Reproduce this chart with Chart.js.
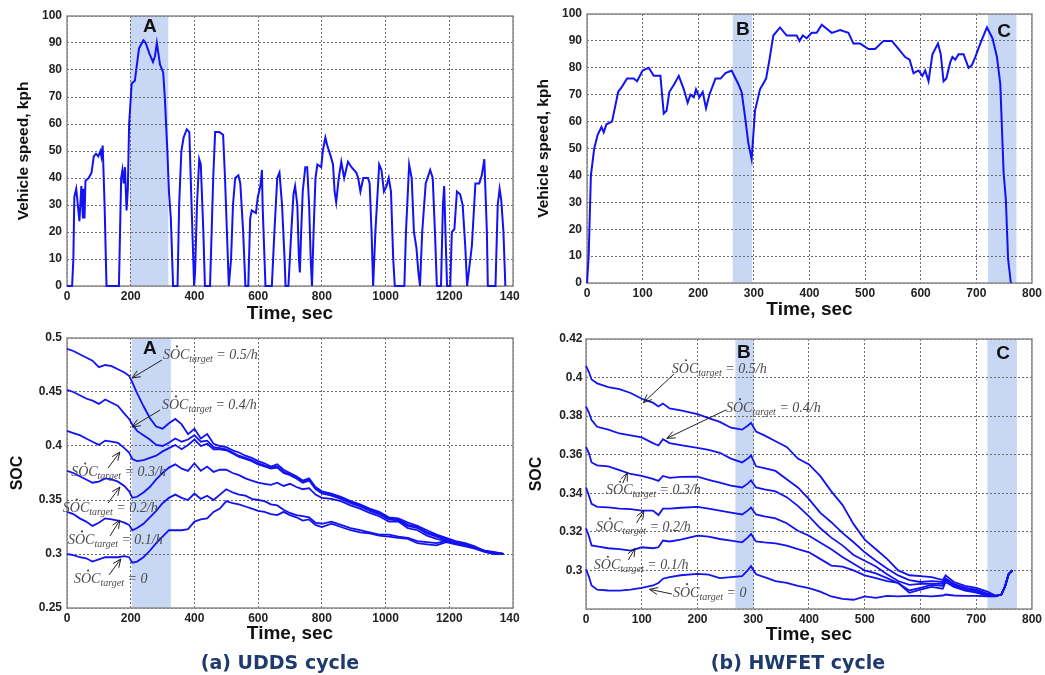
<!DOCTYPE html>
<html>
<head>
<meta charset="utf-8">
<script src="https://cdn.jsdelivr.net/npm/chart.js@4.4.0/dist/chart.umd.min.js"></script>
<style>
  html, body { margin: 0; padding: 0; background: #fff; }
  #page { position: relative; width: 1045px; height: 675px; overflow: hidden; background: #fff; }
  canvas { position: absolute; }
  .cut { clip-path: inset(0 10px 0 0); }
  .cap { position: absolute; top: 651px; font: bold 19px "DejaVu Sans", Verdana, sans-serif; color: #1f3a6e; white-space: nowrap; transform: translateX(-50%); }
</style>
</head>
<body>
<div id="page">
  <canvas id="c1" class="cut" width="530" height="340" style="left:0;top:0"></canvas>
  <canvas id="c2" width="525" height="340" style="left:520px;top:0"></canvas>
  <canvas id="c3" class="cut" width="530" height="355" style="left:0;top:320px"></canvas>
  <canvas id="c4" width="525" height="355" style="left:520px;top:320px"></canvas>
  <div class="cap" style="left:280px">(a) UDDS cycle</div>
  <div class="cap" style="left:798px">(b) HWFET cycle</div>
</div>
<script>
// ---- data ----
// UDDS speed (sec, kph)
const uddsTime = [0,16,20,23,29,34,39,45,50,52, 55,58,68,77,84,91,98,105,108,112,
  118,124,163,170,174,178,182,187,191,195, 203,213,226,240,247,259,270,276,282,292,
  302,307,315,320,326,333,347,352,359,366, 376,384,391,399,402,408,415,420,428,433,
  449,459,465,478,490,496,502,508,515,521, 528,538,544,553,560,569,575,580,593,599,
  607,612,614,620,623,643,651,660,667,675, 683,686,695,704,711,716,723,728,731,735,
  740,748,754,760,765,769,774,780,786,798, 803,811,817,828,835,840,845,853,861,870,
  882,893,908,914,921,930,945,950,956,961, 968,980,987,995,1003,1010,1017,1024,1029,1059,
  1064,1074,1082,1089,1097,1103,1108,1115,1126,1140, 1148,1155,1161,1174,1180,1184,1188,1193,1203,1208,
  1216,1224,1234,1242,1250,1256,1261,1271,1282,1294, 1302,1310,1318,1321,1345,1352,1358,1363,1370,1376];
const uddsSpeed = [0,0,10,33,36,30,24,37,25,36, 25,39,40,42,48,49,48,50,48,52,
  30,0,0,40,43,38,44,28,36,60, 75,76,88,91,90,86,83,85,90,82,
  79,70,50,35,25,0,0,30,50,55, 58,57,30,0,5,30,47,45,20,0,
  0,40,57,57,56,40,20,0,10,30, 40,41,38,20,0,0,25,28,27,33,
  37,43,30,10,0,0,20,40,42,30, 10,0,0,20,34,37,30,10,5,20,
  35,44,44,30,10,0,20,40,45,44, 50,55,52,48,45,35,31,40,46,40,
  46,44,42,40,35,40,40,38,20,0, 20,45,43,35,37,40,35,10,0,0,
  20,45,40,20,14,5,0,20,38,43, 40,20,0,0,30,37,20,0,0,20,
  21,35,34,30,15,0,5,15,38,38, 41,47,20,0,0,30,36,32,20,0];

// HWFET speed (sec, kph)
const hwfetTime = [0,3,7,13,19,26,30,35,45,56, 63,72,84,90,100,111,120,132,138,143,
  148,157,165,174,181,186,192,196,202,208, 214,220,231,240,249,260,272,278,284,290,
  296,302,311,322,328,335,347,359,377,382, 388,395,404,413,422,440,455,470,479,491,
  506,518,533,548,560,572,580,587,596,603, 608,614,621,631,636,641,646,653,657,662,
  668,677,686,692,698,707,719,729,737,743, 749,753,757,762];
const hwfetSpeed = [0,10,40,50,55,58,56,59,60,71, 73,76,76,75,79,80,77,77,63,64,
  71,74,77,72,67,70,69,72,69,71, 65,70,76,76,78,79,74,71,62,52,
  46,64,72,76,83,92,95,92,92,90, 92,91,93,93,96,93,94,93,89,89,
  87,87,90,90,87,84,83,78,79,77, 79,75,85,89,85,75,76,82,84,83,
  85,85,80,81,84,89,95,91,84,74, 41,31,9,0];

// UDDS SOC for each target slope
const uddsSocTime = [0,20,40,60,80,100,120,140,160,180, 195,205,
  220,240,260,280,300,320,340,360,380,400, 420,440,460,480,500,520,540,560,580,600,
  620,640,660,680,700,720,740,760,780,800, 830,860,890,920,950,980,1010,1040,1070,1100,
  1130,1160,1190,1220,1250,1280,1310,1340,1370];
const uddsSoc05 = [0.490,0.488,0.485,0.482,0.479,0.473,0.475,0.474,0.471,0.468, 0.465,0.459,
  0.449,0.437,0.426,0.418,0.416,0.421,0.425,0.420,0.411,0.416, 0.407,0.411,0.402,0.400,0.399,0.396,0.394,0.391,0.389,0.386,
  0.384,0.381,0.383,0.378,0.375,0.372,0.368,0.370,0.362,0.358, 0.356,0.353,0.349,0.346,0.342,0.339,0.334,0.333,0.329,0.326,
  0.322,0.318,0.315,0.312,0.310,0.307,0.303,0.302,0.300];
const uddsSoc04 = [0.452,0.450,0.447,0.444,0.442,0.439,0.443,0.440,0.437,0.430, 0.425,0.420,
  0.414,0.410,0.406,0.401,0.400,0.403,0.407,0.404,0.406,0.410, 0.404,0.405,0.399,0.398,0.397,0.394,0.391,0.389,0.387,0.384,
  0.382,0.380,0.381,0.376,0.374,0.371,0.367,0.369,0.361,0.357, 0.355,0.352,0.348,0.345,0.341,0.338,0.333,0.332,0.327,0.325,
  0.320,0.317,0.314,0.311,0.309,0.306,0.303,0.301,0.300];
const uddsSoc03 = [0.414,0.412,0.410,0.407,0.404,0.401,0.405,0.404,0.403,0.398, 0.394,0.388,
  0.386,0.387,0.389,0.391,0.395,0.398,0.401,0.397,0.401,0.406, 0.400,0.402,0.397,0.397,0.396,0.393,0.390,0.388,0.386,0.383,
  0.381,0.379,0.380,0.375,0.373,0.370,0.366,0.368,0.360,0.356, 0.354,0.351,0.347,0.344,0.340,0.337,0.332,0.331,0.326,0.324,
  0.319,0.316,0.313,0.311,0.309,0.306,0.303,0.301,0.300];
const uddsSoc02 = [0.377,0.375,0.372,0.369,0.366,0.367,0.370,0.369,0.367,0.363, 0.358,0.352,
  0.353,0.357,0.362,0.369,0.375,0.380,0.383,0.379,0.377,0.384, 0.377,0.381,0.376,0.378,0.378,0.375,0.373,0.370,0.368,0.366,
  0.365,0.364,0.366,0.363,0.365,0.362,0.360,0.361,0.355,0.352, 0.351,0.349,0.345,0.342,0.338,0.335,0.330,0.330,0.324,0.322,
  0.317,0.314,0.312,0.310,0.308,0.306,0.303,0.301,0.300];
const uddsSoc01 = [0.339,0.337,0.333,0.330,0.326,0.329,0.333,0.332,0.331,0.329, 0.327,0.322,
  0.324,0.328,0.334,0.340,0.347,0.352,0.355,0.352,0.350,0.356, 0.351,0.354,0.350,0.355,0.360,0.357,0.355,0.354,0.351,0.350,
  0.349,0.346,0.345,0.341,0.338,0.336,0.335,0.334,0.329,0.328, 0.330,0.327,0.324,0.322,0.320,0.318,0.318,0.316,0.315,0.312,
  0.311,0.310,0.312,0.310,0.308,0.306,0.303,0.301,0.300];
const uddsSoc00 = [0.300,0.299,0.297,0.296,0.293,0.295,0.297,0.297,0.297,0.298, 0.297,0.292,
  0.293,0.297,0.303,0.310,0.316,0.322,0.322,0.322,0.323,0.330, 0.332,0.333,0.339,0.342,0.349,0.347,0.346,0.344,0.342,0.340,
  0.339,0.337,0.336,0.339,0.336,0.334,0.331,0.332,0.327,0.325, 0.328,0.325,0.322,0.320,0.319,0.317,0.316,0.315,0.314,0.310,
  0.309,0.308,0.311,0.309,0.307,0.305,0.302,0.300,0.300];

// HWFET SOC for each target slope
const hwfetSocTime = [0,5,10,20,40,60,80,100,120,130, 138,150,170,200,220,240,260,280,290,296,
  305,320,340,360,380,400,420,440,460,480, 500,520,540,560,580,600,620,640,645,660,
  680,700,720,735,745,752,758,765];
const hwfetSoc05 = [0.406,0.403,0.399,0.397,0.395,0.394,0.392,0.389,0.387,0.385,
  0.3865,0.384,0.383,0.381,0.379,0.377,0.374,0.373,0.375,0.3765,
  0.372,0.370,0.367,0.364,0.358,0.355,0.349,0.341,0.334,0.324,
  0.316,0.311,0.306,0.300,0.2975,0.297,0.2965,0.295,0.2975,0.294,
  0.292,0.291,0.289,0.2868,0.2875,0.292,0.298,0.300];
const hwfetSoc04 = [0.385,0.382,0.378,0.3745,0.373,0.371,0.370,0.369,0.366,0.3648,
  0.368,0.366,0.365,0.3636,0.3625,0.361,0.358,0.356,0.358,0.3596,
  0.354,0.353,0.3516,0.3473,0.343,0.337,0.330,0.325,0.3195,0.3146,
  0.3094,0.305,0.301,0.2974,0.295,0.294,0.2945,0.294,0.296,0.293,
  0.291,0.290,0.288,0.2868,0.2875,0.292,0.298,0.300];
const hwfetSoc03 = [0.364,0.361,0.356,0.3545,0.354,0.352,0.350,0.349,0.3475,0.3464,
  0.349,0.348,0.3485,0.3486,0.347,0.3455,0.344,0.343,0.345,0.3467,
  0.343,0.342,0.341,0.338,0.3335,0.328,0.322,0.317,0.313,0.308,
  0.305,0.302,0.298,0.2945,0.2925,0.293,0.293,0.293,0.2955,0.2925,
  0.291,0.2895,0.2875,0.2868,0.2875,0.292,0.298,0.300];
const hwfetSoc02 = [0.343,0.339,0.3345,0.333,0.3327,0.332,0.3318,0.331,0.331,0.3287,
  0.332,0.332,0.3325,0.333,0.332,0.331,0.330,0.329,0.331,0.3326,
  0.329,0.328,0.327,0.3245,0.3206,0.318,0.3145,0.311,0.307,0.3035,
  0.300,0.2985,0.296,0.2935,0.2896,0.291,0.2925,0.292,0.295,0.292,
  0.290,0.289,0.2872,0.2868,0.2875,0.292,0.298,0.300];
const hwfetSoc01 = [0.3218,0.318,0.313,0.3125,0.3115,0.311,0.3103,0.312,0.3115,0.312,
  0.3155,0.315,0.316,0.318,0.3175,0.3163,0.3155,0.3146,0.317,0.3189,
  0.315,0.3145,0.314,0.3129,0.311,0.3094,0.306,0.3025,0.302,0.300,
  0.2974,0.296,0.2945,0.2935,0.2884,0.290,0.2915,0.2905,0.294,0.2915,
  0.2895,0.2885,0.287,0.2868,0.2875,0.292,0.298,0.300];
const hwfetSoc00 = [0.3005,0.297,0.2922,0.290,0.2896,0.2895,0.290,0.291,0.2922,0.2935,
  0.2957,0.2965,0.2975,0.2982,0.2978,0.296,0.2965,0.297,0.300,0.3022,
  0.298,0.2965,0.2945,0.2935,0.292,0.2908,0.289,0.2865,0.2853,0.2848,
  0.2865,0.2858,0.2868,0.2865,0.2868,0.2868,0.2865,0.287,0.2875,0.287,
  0.2868,0.2868,0.2866,0.2866,0.2875,0.292,0.298,0.300];

const socTargets = ['0.5/h', '0.4/h', '0.3/h', '0.2/h', '0.1/h', '0'];

// ---- shaded windows, letters and arrow notes (data coordinates) ----
const extras = {
  c1: { bands: [[198, 318]], letters: [['A', 260, 95.9]] },
  c2: { bands: [[262, 297], [721, 772]], letters: [['B', 280, 94.2], ['C', 750, 93.3]] },
  c3: { bands: [[203, 326]], letters: [['A', 260, 0.4898]],
    notes: [
      [301, 0.4806, 298, 0.4796, 204, 0.463],
      [298, 0.4343, 292, 0.4333, 204, 0.4176],
      [13, 0.3722, 129, 0.3796, 166, 0.3944],
      [-13, 0.3389, 129, 0.3472, 166, 0.362],
      [3, 0.3093, 135, 0.3167, 166, 0.3315],
      [22, 0.2731, 132, 0.2806, 169, 0.2954]
    ] },
  c4: { bands: [[268, 301], [720, 773]], letters: [['B', 283, 0.4127], ['C', 748, 0.4122]],
    notes: [
      [154, 0.4025, 158, 0.4019, 103, 0.387],
      [251, 0.3823, 251, 0.3832, 145, 0.3685],
      [36, 0.3395, 66, 0.3452, 74, 0.3507],
      [18, 0.3204, 91, 0.3247, 104, 0.331],
      [14, 0.3006, 76, 0.3054, 88, 0.3115],
      [156, 0.2864, 154, 0.2878, 114, 0.2902]
    ] }
};

const SANS = '"Liberation Sans", Arial, sans-serif';
const SERIF = '"Liberation Serif", "DejaVu Serif", serif';

function drawNote(ctx, px, py, val) {
  ctx.fillStyle = '#4a4a4a';
  ctx.textAlign = 'left';
  ctx.textBaseline = 'alphabetic';
  ctx.font = 'italic 14px ' + SERIF;
  const wS = ctx.measureText('S').width;
  const wO = ctx.measureText('O').width;
  ctx.fillText('SOC', px, py);
  // dot over the O
  ctx.beginPath();
  ctx.arc(px + wS + wO * 0.5 + 2, py - 12.5, 1.1, 0, Math.PI * 2);
  ctx.fill();
  let w = ctx.measureText('SOC').width;
  ctx.font = 'italic 10px ' + SERIF;
  ctx.fillText('target', px + w, py + 3);
  w += ctx.measureText('target').width;
  ctx.font = 'italic 14px ' + SERIF;
  ctx.fillText(' = ' + val, px + w, py);
}

function drawArrow(ctx, x0, y0, x1, y1) {
  ctx.strokeStyle = '#222';
  ctx.lineWidth = 1;
  ctx.beginPath();
  ctx.moveTo(x0, y0);
  ctx.lineTo(x1, y1);
  ctx.stroke();
  const ang = Math.atan2(y1 - y0, x1 - x0), L = 9, s = 0.4;
  ctx.beginPath();
  ctx.moveTo(x1 - L * Math.cos(ang - s), y1 - L * Math.sin(ang - s));
  ctx.lineTo(x1, y1);
  ctx.lineTo(x1 - L * Math.cos(ang + s), y1 - L * Math.sin(ang + s));
  ctx.stroke();
}

const figurePlugin = {
  id: 'figure',
  beforeDraw(chart) {
    const ex = extras[chart.canvas.id];
    const {ctx, chartArea: a, scales: {x}} = chart;
    ctx.save();
    ctx.fillStyle = '#c7d7f4';
    ex.bands.forEach(([from, to]) => {
      const x0 = x.getPixelForValue(from), x1 = x.getPixelForValue(to);
      ctx.fillRect(x0, a.top, x1 - x0, a.bottom - a.top);
    });
    ctx.restore();
  },
  beforeDatasetsDraw(chart) {
    const {ctx, chartArea: a} = chart;
    ctx.save();
    ctx.strokeStyle = '#8c8c8c';
    ctx.lineWidth = 1.5;
    ctx.strokeRect(a.left, a.top, a.right - a.left, a.bottom - a.top);
    ctx.restore();
  },
  afterDraw(chart) {
    const ex = extras[chart.canvas.id];
    const {ctx, scales: {x, y}} = chart;
    ctx.save();
    ctx.fillStyle = '#111';
    ctx.font = 'bold 19px ' + SANS;
    ctx.textAlign = 'center';
    ctx.textBaseline = 'middle';
    ex.letters.forEach(([t, lx, ly]) => ctx.fillText(t, x.getPixelForValue(lx), y.getPixelForValue(ly)));
    (ex.notes || []).forEach((n, i) => {
      drawArrow(ctx, x.getPixelForValue(n[2]), y.getPixelForValue(n[3]), x.getPixelForValue(n[4]), y.getPixelForValue(n[5]));
      drawNote(ctx, x.getPixelForValue(n[0]), y.getPixelForValue(n[1]), socTargets[i]);
    });
    ctx.restore();
  }
};

function lineSet(times, values, width) {
  return {
    data: times.map((t, i) => ({x: t, y: values[i]})),
    borderColor: '#1212f2',
    borderWidth: width,
    pointRadius: 0,
    tension: 0,
    fill: false,
    clip: 4
  };
}

function fmtNum(v) {
  return String(+Number(v).toFixed(3));
}

function buildChart(id, datasets, o) {
  return new Chart(document.getElementById(id), {
    type: 'line',
    data: {datasets},
    options: {
      responsive: false,
      animation: false,
      events: [],
      layout: {autoPadding: false, padding: {left: 0, top: o.padTop, right: o.padRight, bottom: 0}},
      plugins: {legend: {display: false}, tooltip: {enabled: false}},
      scales: {
        x: {
          type: 'linear', min: 0, max: o.xMax,
          ticks: {stepSize: o.xStep, padding: 3, color: '#222', maxRotation: 0, autoSkip: false,
            font: {family: SANS, size: 12, weight: 'bold'}, callback: v => String(v)},
          grid: {color: '#6a6a6a', lineWidth: 1, drawTicks: false},
          border: {display: false, dash: [2, 2]},
          title: {display: true, text: 'Time, sec', color: '#111',
            font: {family: SANS, size: 19, weight: 'bold', lineHeight: 1.2},
            padding: {top: 0, bottom: o.xTitlePad}},
          afterFit: s => { s.height = o.xHeight; }
        },
        y: {
          type: 'linear', min: o.yMin, max: o.yMax,
          ticks: {stepSize: o.yStep, padding: o.yTickPad, color: '#222',
            font: {family: SANS, size: 12, weight: 'bold'},
            callback: v => (o.hideMin && Math.abs(v - o.yMin) < 1e-6) ? '' : fmtNum(v)},
          grid: {color: '#6a6a6a', lineWidth: 1, drawTicks: false},
          border: {display: false, dash: [2, 2]},
          title: {display: true, text: o.yTitle, color: '#111',
            font: {family: SANS, size: o.yTitleSize, weight: 'bold', lineHeight: 1.2},
            padding: {top: o.yTitlePad, bottom: 0}},
          afterFit: s => { s.width = o.yWidth; }
        }
      }
    },
    plugins: [figurePlugin]
  });
}

buildChart('c1', [lineSet(uddsTime, uddsSpeed, 2)], {
  padTop: 16, padRight: 17, xMax: 1400, xStep: 200, xHeight: 54, xTitlePad: 14.6,
  yMin: 0, yMax: 100, yStep: 10, yTickPad: 5, yWidth: 67,
  yTitle: 'Vehicle speed, kph', yTitleSize: 15.5, yTitlePad: 14
});

buildChart('c2', [lineSet(hwfetTime, hwfetSpeed, 2)], {
  padTop: 14, padRight: 13, xMax: 800, xStep: 100, xHeight: 57, xTitlePad: 19,
  yMin: 0, yMax: 100, yStep: 10, yTickPad: 5, yWidth: 67,
  yTitle: 'Vehicle speed, kph', yTitleSize: 15.5, yTitlePad: 14
});

buildChart('c3', [uddsSoc05, uddsSoc04, uddsSoc03, uddsSoc02, uddsSoc01, uddsSoc00].map(s => lineSet(uddsSocTime, s, 1.8)), {
  padTop: 18, padRight: 17, xMax: 1400, xStep: 200, xHeight: 67, xTitlePad: 29.6,
  yMin: 0.25, yMax: 0.5, yStep: 0.05, yTickPad: 5, yWidth: 67,
  yTitle: 'SOC', yTitleSize: 16, yTitlePad: 8.4
});

buildChart('c4', [hwfetSoc05, hwfetSoc04, hwfetSoc03, hwfetSoc02, hwfetSoc01, hwfetSoc00].map(s => lineSet(hwfetSocTime, s, 1.8)), {
  padTop: 19, padRight: 13, xMax: 800, xStep: 100, xHeight: 66, xTitlePad: 28.6,
  yMin: 0.28, yMax: 0.42, yStep: 0.02, yTickPad: 3.5, yWidth: 66, hideMin: true,
  yTitle: 'SOC', yTitleSize: 16, yTitlePad: 7.4
});
</script>
</body>
</html>
